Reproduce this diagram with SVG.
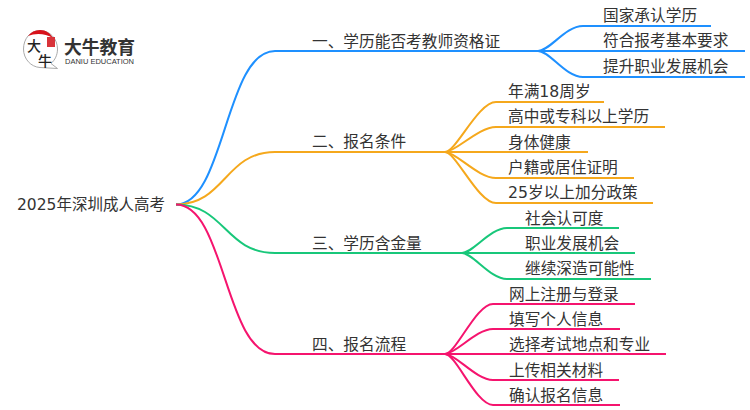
<svg xmlns="http://www.w3.org/2000/svg" width="750" height="410" viewBox="0 0 750 410">
<style>
text{font-family:"DejaVu Sans","Noto Sans CJK SC",sans-serif;font-size:15.700px;fill:#333}
.c{fill:none;stroke-width:2}
.b{stroke:#1e90ff}.o{stroke:#f5a81c}.g{stroke:#18c77a}.p{stroke:#f5146e}
.m{font-family:"Noto Sans CJK SC",sans-serif;font-size:14px;font-weight:500;fill:#222}
</style>
<rect width="750" height="410" fill="#fff"/>
<g id="connectors">
<g class="c b">
<path d="M176 204.500C225 204.500 225 51 275 51H538"/>
<path d="M538 51C550 51 565 26 583 26H711"/>
<path d="M538 51H745"/>
<path d="M538 51C550 51 565 77 583 77H745"/>
</g>
<g class="c o">
<path d="M176 204.500C225 204.500 225 152 275 152H445"/>
<path d="M445 152C456 152 478 102 496 102H604"/>
<path d="M445 152C456 152 478 127 496 127H665"/>
<path d="M445 152H588"/>
<path d="M445 152C456 152 478 178 496 178H634"/>
<path d="M445 152C456 152 478 203 496 203H653"/>
</g>
<g class="c g">
<path d="M176 204.500C225 204.500 225 253 275 253H462"/>
<path d="M462 253C473 253 490 228 507 228H619"/>
<path d="M462 253H635"/>
<path d="M462 253C473 253 490 279 507 279H651"/>
</g>
<g class="c p">
<path d="M176 204.500C225 204.500 225 354 275 354H445"/>
<path d="M445 354C456 354 476 304 493 304H635"/>
<path d="M445 354C456 354 476 329 493 329H620"/>
<path d="M445 354H666"/>
<path d="M445 354C456 354 476 380 493 380H619"/>
<path d="M445 354C456 354 476 405 493 405H620"/>
</g>
</g>
<g id="logo">
<path d="M40 30.500C30 30.500 23.500 39 23.500 49C23.500 59 31 67 40 67.500L57.500 68.500L51 63.500C55 60 57.500 55 57.500 49C57.500 39 50 30.500 40 30.500Z" fill="#fff" stroke="#aaa"/>
<path d="M28 36C31 32 35 30 40 30C46 30 50 33 53 38C45 33 35 33 28 36Z" fill="#d8111a"/>
<rect x="47" y="37" width="8" height="10" fill="#d8333a"/>
<text class="m" x="27" y="51">大</text>
<text class="m" x="38" y="66">牛</text>
<text x="64" y="54" style="font-size:17.800px;font-weight:700;font-family:'Noto Sans CJK SC',sans-serif">大牛教育</text>
<text x="65" y="64" style="font-size:7.500px;font-family:'Liberation Sans',sans-serif">DANIU EDUCATION</text>
</g>
<g id="root"><text x="17" y="210" style="font-size:15.500px">2025年深圳成人高考</text></g>
<g id="n1"><text x="312" y="47">一、学历能否考教师资格证</text></g>
<g id="n1a"><text x="603" y="21">国家承认学历</text></g>
<g id="n1b"><text x="603" y="46">符合报考基本要求</text></g>
<g id="n1c"><text x="603" y="72">提升职业发展机会</text></g>
<g id="n2"><text x="312" y="147">二、报名条件</text></g>
<g id="n2a"><text x="508" y="97">年满18周岁</text></g>
<g id="n2b"><text x="508" y="122">高中或专科以上学历</text></g>
<g id="n2c"><text x="508" y="148">身体健康</text></g>
<g id="n2d"><text x="508" y="173">户籍或居住证明</text></g>
<g id="n2e"><text x="508" y="198">25岁以上加分政策</text></g>
<g id="n3"><text x="312" y="249">三、学历含金量</text></g>
<g id="n3a"><text x="525" y="224">社会认可度</text></g>
<g id="n3b"><text x="525" y="249">职业发展机会</text></g>
<g id="n3c"><text x="525" y="274">继续深造可能性</text></g>
<g id="n4"><text x="312" y="350">四、报名流程</text></g>
<g id="n4a"><text x="509" y="300">网上注册与登录</text></g>
<g id="n4b"><text x="509" y="325">填写个人信息</text></g>
<g id="n4c"><text x="509" y="350">选择考试地点和专业</text></g>
<g id="n4d"><text x="509" y="376">上传相关材料</text></g>
<g id="n4e"><text x="509" y="401">确认报名信息</text></g>
</svg>
